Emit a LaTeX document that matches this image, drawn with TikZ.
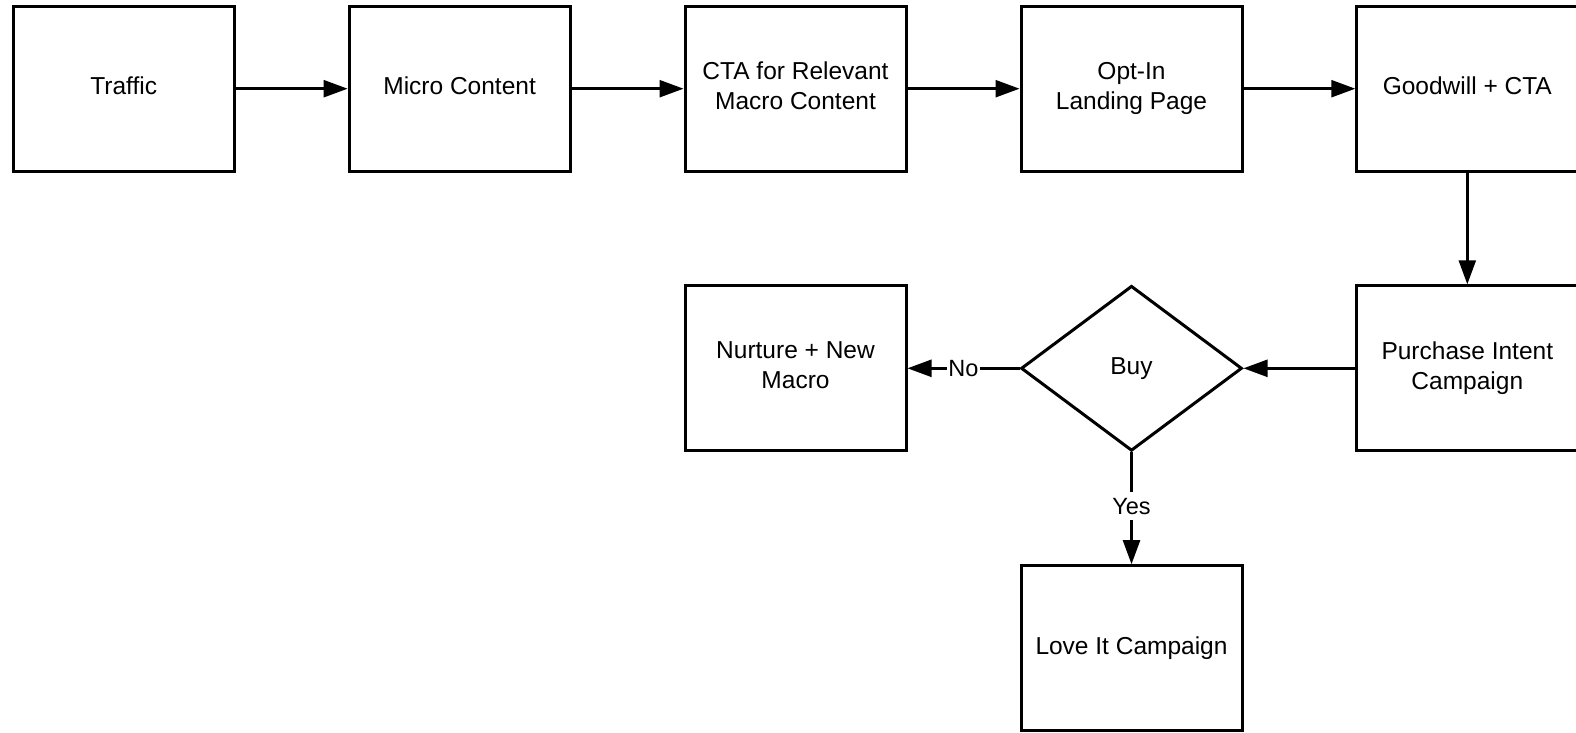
\documentclass[tikz,border=0pt]{standalone}
\usepackage{fontspec}
\setmainfont{Liberation Sans}
\usetikzlibrary{arrows.meta,shapes.geometric}

\tikzset{
  stepbox/.style={draw=black, line width=3pt, fill=white,
    minimum width=221pt, minimum height=165pt, inner sep=4pt,
    text depth=5.5pt,
    align=center, font=\fontsize{24.5}{30}\selectfont},
  decision/.style={diamond, draw=black, line width=3pt, fill=white,
    minimum width=221pt, minimum height=165pt, inner sep=0pt,
    font=\fontsize{24.5}{30}\selectfont},
  flow/.style={draw=black, line width=2.4pt,
    -{Triangle[length=24pt, width=17pt]}},
  edgelabel/.style={fill=white, inner xsep=1pt, inner ysep=6pt,
    font=\fontsize{23.5}{28}\selectfont}
}

\begin{document}
\begin{tikzpicture}[x=1pt, y=-1pt]
  \useasboundingbox (0,0) rectangle (1576,733);
  \clip (0,0) rectangle (1576,733);

  % top row
  \node[stepbox] (traffic) at (123.7,88.7) {Traffic};
  \node[stepbox] (micro)   at (459.6,88.7) {Micro Content};
  \node[stepbox] (cta)     at (795.5,88.7) {CTA for Relevant\\Macro Content};
  \node[stepbox] (optin)   at (1131.5,88.7) {Opt-In\\Landing Page};
  \node[stepbox] (goodwill) at (1467.3,88.7) {Goodwill + CTA};

  % middle row
  \node[stepbox] (intent)  at (1467.3,368.3) {Purchase Intent\\Campaign};
  \node[decision] (buy)    at (1131.5,368.3) {Buy};
  \node[stepbox] (nurture) at (795.5,368.3) {Nurture + New\\Macro};

  % bottom row
  \node[stepbox] (love)    at (1131.5,648.2) {Love It Campaign};

  % connectors
  \draw[flow] (traffic) -- (micro);
  \draw[flow] (micro) -- (cta);
  \draw[flow] (cta) -- (optin);
  \draw[flow] (optin) -- (goodwill);
  \draw[flow] (goodwill) -- (intent);
  \draw[flow] (intent) -- (buy.east);
  \draw[flow] (buy.west) -- node[edgelabel] {No} (nurture);
  \draw[flow] (buy.south) -- node[edgelabel, yshift=2pt] {Yes} (love);
\end{tikzpicture}
\end{document}
